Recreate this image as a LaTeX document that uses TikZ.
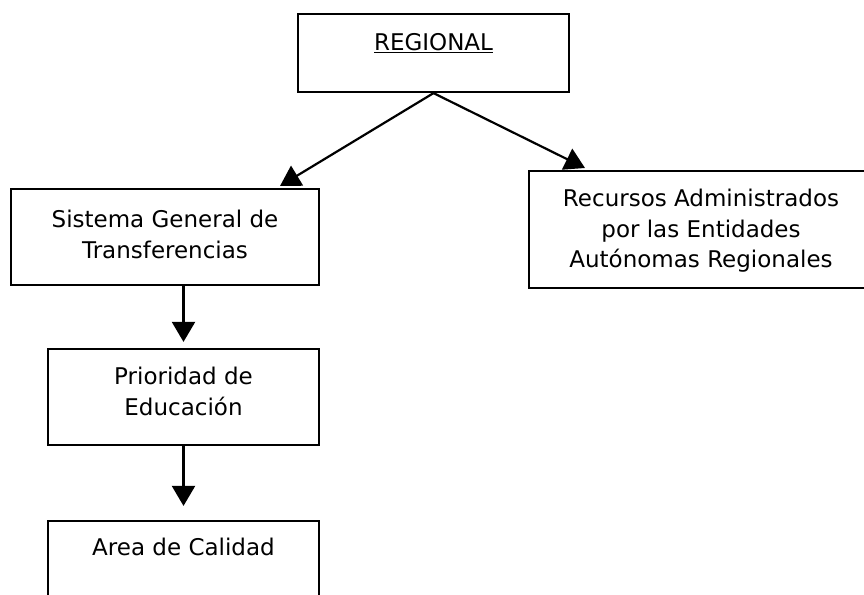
\documentclass[tikz,border=0pt]{standalone}
\usepackage{fontspec}
\setmainfont{DejaVu Sans}
\usetikzlibrary{arrows.meta}
\begin{document}
\begin{tikzpicture}[x=1pt,y=-1pt,
  box/.style={draw=black,line width=2.2pt,rectangle,inner sep=0pt,fill=none},
  lbl/.style={anchor=north,inner sep=0pt,align=center,font=\fontsize{23}{30.5}\selectfont},
  conn/.style={draw=black,line width=2.2pt,-{Triangle[length=20pt,width=23pt]}}]
\useasboundingbox[fill=white] (0,0) rectangle (864,594);
% boxes
\node[box,minimum width=271pt,minimum height=78pt] (reg) at (433.5,53) {};
\node[box,minimum width=308pt,minimum height=96pt] (sgt) at (165,237) {};
\node[box,minimum width=344pt,minimum height=117pt] (rec) at (701,229.5) {};
\node[box,minimum width=271pt,minimum height=96pt] (pri) at (183.5,397) {};
\node[box,minimum width=271pt,minimum height=96pt] (area) at (183.5,569) {};
% texts
\node[lbl] (treg) at ([yshift=-20pt]reg.north) {\underline{REGIONAL}};
\node[lbl] (tsgt) at ([yshift=-22pt]sgt.north) {Sistema General de\\Transferencias};
\node[lbl] (trec) at ([yshift=-19pt]rec.north) {Recursos Administrados\\por las Entidades\\Autónomas Regionales};
\node[lbl] (tpri) at ([yshift=-19pt]pri.north) {Prioridad de\\Educación};
\node[lbl] (tarea) at ([yshift=-18pt]area.north) {Area de Calidad};
% connectors
\coordinate (t1) at (280,186);
\coordinate (t2) at (585,168);
\draw[conn] (reg.south) -- (t1);
\draw[conn] (reg.south) -- (t2);
\draw[conn,shorten >=6pt] (pri.north |- sgt.south) -- (pri.north);
\draw[conn,shorten >=14pt] (pri.south) -- (area.north);
\end{tikzpicture}
\end{document}
